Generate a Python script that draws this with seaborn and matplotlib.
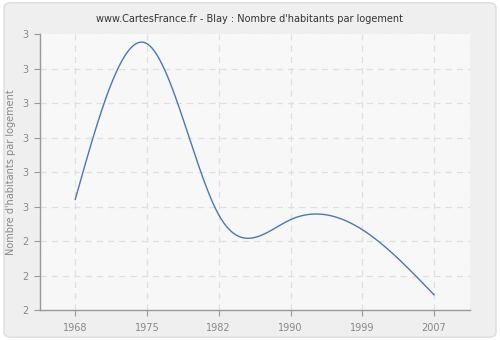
import numpy as np
import pandas as pd
import matplotlib
matplotlib.use("Agg")
import matplotlib.pyplot as plt
import seaborn as sns
from matplotlib.patches import FancyBboxPatch

years = ["1968", "1975", "1982", "1990", "1999", "2007"]
values = [2.52, 2.972, 2.476, 2.462, 2.433, 2.244]
ytick_values = [2.2, 2.3, 2.4, 2.5, 2.6, 2.7, 2.8, 2.9, 3.0]
ytick_labels = ["2", "2", "2", "3", "3", "3", "3", "3", "3"]
title = "www.CartesFrance.fr - Blay : Nombre d'habitants par logement"
ylabel = "Nombre d'habitants par logement"


def natural_spline(x, y, n=400):
    x = np.asarray(x, float)
    y = np.asarray(y, float)
    k = len(x)
    h = np.diff(x)
    A = np.zeros((k, k))
    b = np.zeros(k)
    A[0, 0] = A[-1, -1] = 1
    for i in range(1, k - 1):
        A[i, i - 1] = h[i - 1]
        A[i, i] = 2 * (h[i - 1] + h[i])
        A[i, i + 1] = h[i]
        b[i] = 3 * ((y[i + 1] - y[i]) / h[i] - (y[i] - y[i - 1]) / h[i - 1])
    c = np.linalg.solve(A, b)
    xs = np.linspace(x[0], x[-1], n)
    ys = np.empty_like(xs)
    for j, xv in enumerate(xs):
        i = min(np.searchsorted(x, xv, side="right") - 1, k - 2)
        dx = xv - x[i]
        bi = (y[i + 1] - y[i]) / h[i] - h[i] * (2 * c[i] + c[i + 1]) / 3
        di = (c[i + 1] - c[i]) / (3 * h[i])
        ys[j] = y[i] + bi * dx + c[i] * dx ** 2 + di * dx ** 3
    return xs, ys


sns.set_theme(style="white")
plt.rcParams["font.family"] = ["DejaVu Sans"]
plt.rcParams["hatch.linewidth"] = 0.4

fig = plt.figure(figsize=(5.0, 3.4), dpi=100)
fig.patch.set_facecolor("white")
fig.patches.append(FancyBboxPatch((0.008, 0.008), 0.984, 0.984,
                                  boxstyle="round,pad=0,rounding_size=0.015",
                                  transform=fig.transFigure, facecolor="#efefef",
                                  edgecolor="#dddddd", linewidth=1.0, zorder=-10))

ax = fig.add_axes([0.08, 0.088, 0.86, 0.812])
ax.set_facecolor("white")

xpos = np.arange(len(years))
xs, ys = natural_spline(xpos, values)
df = pd.DataFrame({"x": xs, "y": ys})

ax.set_xlim(-0.49, 5.5)
ax.set_ylim(2.2, 3.0)

# alternating bands
for i in range(len(ytick_values) - 1):
    lo, hi = ytick_values[i], ytick_values[i + 1]
    if (len(ytick_values) - 2 - i) % 2 == 0:
        ax.axhspan(lo, hi, facecolor="white", hatch="/" * 14, edgecolor="#ebebeb",
                   linewidth=0, zorder=0)
    else:
        ax.axhspan(lo, hi, facecolor="#fafafa", hatch="/" * 14, edgecolor="#f3f3f3",
                   linewidth=0, zorder=0)

sns.lineplot(data=df, x="x", y="y", ax=ax, color="#4a78b0", linewidth=1.0,
             zorder=3, sort=False)

ax.set_xticks(xpos)
ax.set_xticklabels(years)
ax.set_yticks(ytick_values)
ax.set_yticklabels(ytick_labels)

for v in ytick_values[1:-1]:
    ax.axhline(v, color="#e0e0e0", linestyle=(0, (5, 4)), linewidth=0.9, zorder=1)
for p in xpos:
    ax.axvline(p, color="#e0e0e0", linestyle=(0, (5, 4)), linewidth=0.9, zorder=1)

for s in ["top", "right"]:
    ax.spines[s].set_visible(False)
for s in ["left", "bottom"]:
    ax.spines[s].set_color("#999999")
    ax.spines[s].set_linewidth(1.0)

ax.tick_params(axis="both", which="major", length=4, width=0.8, color="#999999",
               labelcolor="#888888", labelsize=7, direction="out", bottom=True, left=True)
ax.tick_params(axis="x", pad=5)
ax.tick_params(axis="y", pad=4)

ax.set_xlabel("")
ax.set_ylabel(ylabel, color="#888888", fontsize=7, labelpad=5)
fig.text(0.5, 0.945, title, ha="center", va="center", fontsize=7.0, color="#333333")

fig.savefig("out.png", dpi=100, facecolor=fig.get_facecolor())
